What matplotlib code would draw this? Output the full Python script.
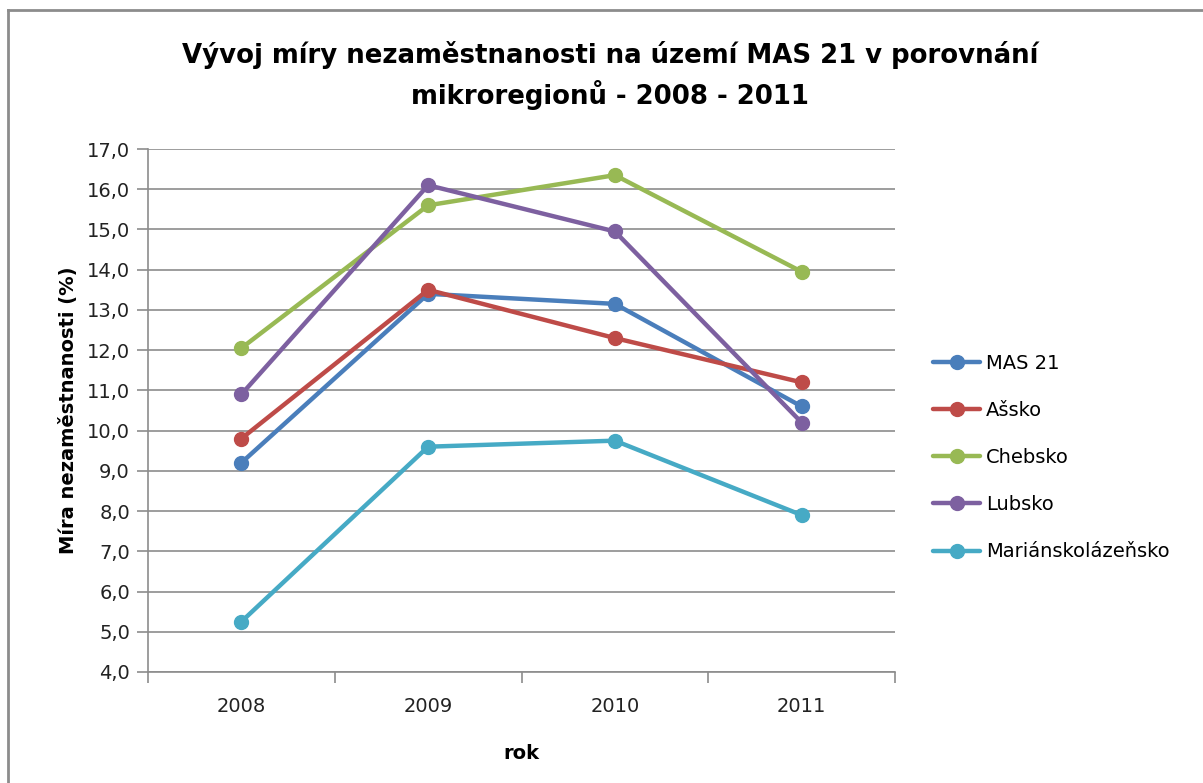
import matplotlib
matplotlib.use("Agg")
import matplotlib.pyplot as plt
from matplotlib.lines import Line2D
from matplotlib.ticker import FixedLocator, FuncFormatter

years = ["2008", "2009", "2010", "2011"]
mas21 = [9.2, 13.4, 13.15, 10.6]
assko = [9.8, 13.5, 12.3, 11.2]
chebsko = [12.05, 15.6, 16.35, 13.95]
lubsko = [10.9, 16.1, 14.95, 10.2]
marianskolazensko = [5.25, 9.6, 9.75, 7.9]

series = [
    ("MAS 21", mas21, "#4A7EBB"),
    ("Ašsko", assko, "#BE4B48"),
    ("Chebsko", chebsko, "#98B954"),
    ("Lubsko", lubsko, "#7D60A0"),
    ("Mariánskolázeňsko", marianskolazensko, "#46AAC5"),
]

plt.rcParams["font.family"] = ["DejaVu Sans"]

fig = plt.figure(figsize=(12.03, 7.83), dpi=100)
ax = fig.add_axes([0.123, 0.1418, 0.621, 0.6679])

x = list(range(len(years)))
for name, vals, col in series:
    ax.plot(x, vals, color=col, lw=3.2, marker="o", markersize=10,
            solid_capstyle="round", label=name)

grid_col = "#8C8C8C"
ax.set_ylim(4, 17)
ax.set_xlim(-0.5, len(years) - 0.5)
ax.yaxis.set_major_locator(FixedLocator(range(4, 18)))
ax.yaxis.set_major_formatter(FuncFormatter(lambda v, p: f"{v:.1f}".replace(".", ",")))
ax.grid(axis="y", color=grid_col, lw=1.2)
ax.set_axisbelow(True)

ax.set_xticks(x)
ax.set_xticklabels(years)
ax.set_xticks([i - 0.5 for i in range(len(years) + 1)], minor=True)
ax.tick_params(axis="x", which="major", length=0, pad=18, labelsize=14, colors="#222222")
ax.tick_params(axis="x", which="minor", length=8, width=1.2, color=grid_col)
ax.tick_params(axis="y", length=8, width=1.2, color=grid_col, labelsize=14,
               labelcolor="#222222", pad=5)

for s in ("top", "right"):
    ax.spines[s].set_visible(False)
for s in ("left", "bottom"):
    ax.spines[s].set_color(grid_col)
    ax.spines[s].set_linewidth(1.2)

ax.set_ylabel("Míra nezaměstnanosti (%)", fontsize=14, fontweight="bold", labelpad=6)
ax.set_xlabel("rok", fontsize=14, fontweight="bold", labelpad=20)

fig.text(0.507, 0.904, "Vývoj míry nezaměstnanosti na území MAS 21 v porovnání\nmikroregionů - 2008 - 2011",
         ha="center", va="center", fontsize=18.7, fontweight="bold", linespacing=1.45)

leg = ax.legend(loc="center left", bbox_to_anchor=(1.028, 0.41), frameon=False,
                fontsize=14, handlelength=2.4, handletextpad=0.3, labelspacing=1.45)

# chart frame (left and top edges)
fig.add_artist(Line2D([0.0069, 0.0069], [0, 0.987], transform=fig.transFigure,
                      color="#8C8C8C", lw=2))
fig.add_artist(Line2D([0.0069, 1.0], [0.987, 0.987], transform=fig.transFigure,
                      color="#8C8C8C", lw=2))

fig.savefig("out.png", dpi=100)
